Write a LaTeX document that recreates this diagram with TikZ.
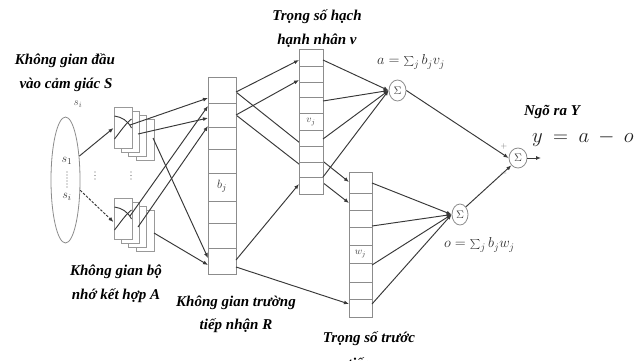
\documentclass[tikz,border=0pt]{standalone}
\usepackage{fontspec}
\setmainfont{Liberation Serif}
\usetikzlibrary{arrows.meta,shapes.geometric}
\begin{document}
\begin{tikzpicture}[x=1pt,y=-1pt,
  lbl/.style={font=\fontsize{15}{16}\selectfont\bfseries\itshape, inner sep=0pt, text=black},
  mth/.style={inner sep=0pt, text=black!82, font=\fontsize{14}{14}\selectfont},
  colbox/.style={draw=black!45, fill=white, line width=0.8pt, inner sep=0pt},
  cell/.style={draw=black!45, line width=0.7pt},
  abox/.style={draw=black!40, fill=white, line width=0.8pt, minimum width=18pt, minimum height=41pt, inner sep=0pt},
  curv/.style={draw=black!80, line width=0.9pt},
  conn/.style={draw=black!78, line width=0.95pt},
  arr/.style={conn, -{Latex[length=5pt,width=4pt]}},
  sig/.style={ellipse, draw=black!45, line width=0.8pt, fill=white, inner sep=0pt, font=\fontsize{11}{11}\selectfont, text=black!75},
  dotc/.style={fill=black!60, draw=none, circle, inner sep=0pt, minimum size=1.3pt}
]
\useasboundingbox (0,0) rectangle (644,360);
\fill[white] (0,0) rectangle (644,360);

% ---------- labels ----------
\node[lbl] (tv1) at (317,17) {Trọng số hạch};
\node[lbl] (tv2) at (317,41) {hạnh nhân v};
\node[lbl] (ts1) at (65,61) {Không gian đầu};
\node[lbl] (ts2) at (66,85) {vào cảm giác S};
\node[mth, font=\fontsize{11}{11}\selectfont, text=black!65] (sitop) at (78,104) {$s_i$};
\node[lbl] (ta1) at (116,272) {Không gian bộ};
\node[lbl] (ta2) at (116,296) {nhớ kết hợp A};
\node[lbl] (tr1) at (236,303) {Không gian trường};
\node[lbl] (tr2) at (236,326) {tiếp nhận R};
\node[lbl] (tw1) at (369,339) {Trọng số trước};
\node[lbl] (tw2) at (366,365) {tiếp w};
\node[lbl] (ty1) at (552,112) {Ngõ ra Y};
\node[mth, anchor=west] (aeq) at (377,62) {$a=\sum_j b_jv_j$};
\node[mth, anchor=west] (oeq) at (444,245) {$o=\sum_j b_jw_j$};
\node[mth, anchor=west, font=\fontsize{22}{22}\selectfont, text=black!88] (yeq) at (532,138) {$y\:=\:a\:-\:o$};

% ---------- input space S ----------
\node[ellipse, draw=black!45, line width=0.8pt, minimum width=29pt, minimum height=126pt, inner sep=0pt] (S) at (65.5,180) {};
\node[mth, font=\fontsize{13}{13}\selectfont, text=black!80] (s1) at (67,161) {$s_1$};
\node[mth, font=\fontsize{13}{13}\selectfont, text=black!80] (si) at (67,197) {$s_i$};
\foreach \y in {172,175,178,181,184,187} \node[dotc] at (67,\y) {};
\foreach \y in {172,175.5,179} {
  \node[dotc] at (95,\y) {};
  \node[dotc] at (131,\y) {};
}

% ---------- association space A ----------
\foreach \k in {3,2,1} {
  \node[abox] (At\k) at (123+7.3*\k,127.5+4.2*\k) {};
  \node[abox] (Ab\k) at (123+7.3*\k,218.5+4.2*\k) {};
}
\node[abox] (At) at (123,127.5) {};
\node[abox] (Ab) at (123,218.5) {};
\draw[curv] (114.5,116) .. controls (122,117) and (128,121) .. (131.5,128);
\draw[curv] (114.5,139) .. controls (120,132) and (126,123) .. (131.5,119);
\draw[curv] (114.5,207) .. controls (122,208) and (128,212) .. (131.5,219);
\draw[curv] (114.5,230) .. controls (120,223) and (126,214) .. (131.5,210);

\coordinate (sin1) at (S.60);
\coordinate (sin2) at (S.-35);
\coordinate (ain1) at (113.5,128);
\coordinate (ain2) at (113.5,222);
\draw[arr] (sin1) -- (ain1);
\draw[arr, dashed, dash pattern=on 2.5pt off 1.5pt] (sin2) -- (ain2);

% ---------- columns ----------
\coordinate (br1) at (236,92);
\coordinate (br2) at (236,115);
\coordinate (br3) at (236,260);
\coordinate (br4) at (236,267);
\coordinate (wl1) at (349,182);
\coordinate (wl2) at (349,203);
\coordinate (wl3) at (349,304);
% lines passing behind V
\draw[arr] (br1) -- (wl1);
\draw[arr] (br2) -- (wl2);

% B column
\node[colbox, minimum width=28pt, minimum height=197pt] (B) at (222,175.5) {};
\foreach \y in {103,127,149,173,201,223,248} \draw[cell] (208,\y) -- (236,\y);
\node[mth, font=\fontsize{13}{13}\selectfont, text=black!80] (bj) at (222,186) {$b_j$};

% V column
\node[colbox, minimum width=24pt, minimum height=145pt] (V) at (311,121.5) {};
\foreach \y in {66,82,97,113,130,146,162,177} \draw[cell] (299,\y) -- (323,\y);
\node[mth, font=\fontsize{10}{10}\selectfont, text=black!75] (vj) at (311,122) {$v_j$};

% W column
\node[colbox, minimum width=23pt, minimum height=145pt] (W) at (360.5,244.5) {};
\foreach \y in {193,210,227,245,263,282,299} \draw[cell] (349,\y) -- (372,\y);
\node[mth, font=\fontsize{10}{10}\selectfont, text=black!75] (wj) at (360.5,254) {$w_j$};

% ---------- A -> B ----------
\coordinate (at1) at (130,125);
\coordinate (at2) at (138,134);
\coordinate (at3) at (153,138);
\coordinate (ab1) at (130,216);
\coordinate (ab2) at (138,227);
\coordinate (ab3) at (154,233);
\coordinate (bl1) at (208,98);
\coordinate (bl2) at (208,106);
\coordinate (bl3) at (208,118);
\coordinate (bl4) at (208,126);
\coordinate (bl5) at (208,258);
\coordinate (bl6) at (208,265);
\draw[arr] (at1) -- (bl1);
\draw[arr] (at2) -- (bl3);
\draw[arr] (ab1) -- (bl2);
\draw[arr] (ab2) -- (bl4);
\draw[arr] (at3) -- (bl5);
\draw[arr] (ab3) -- (bl6);

% ---------- B -> V, W ----------
\coordinate (vl1) at (299,60);
\coordinate (vl2) at (299,80);
\coordinate (vl3) at (299,184);
\draw[arr] (br1) -- (vl1);
\draw[arr] (br2) -- (vl2);
\draw[arr] (br3) -- (vl3);
\draw[arr] (br4) -- (wl3);

% ---------- summations ----------
\node[sig, minimum width=17pt, minimum height=21pt] (asig) at (397.5,90.5) {$\Sigma$};
\node[sig, minimum width=16pt, minimum height=21pt] (osig) at (460,214.5) {$\Sigma$};
\node[sig, minimum width=18pt, minimum height=20pt] (ysig) at (518,158) {$\Sigma$};

\coordinate (vr1) at (323,60);
\coordinate (vr2) at (323,101);
\coordinate (vr3) at (323,139);
\coordinate (vr4) at (323,177);
\foreach \p in {vr1,vr2,vr3,vr4} \draw[arr] (\p) -- (asig.west);

\coordinate (wr1) at (372,183);
\coordinate (wr2) at (372,226);
\coordinate (wr3) at (372,265);
\coordinate (wr4) at (372,304);
\foreach \p in {wr1,wr2,wr3,wr4} \draw[arr] (\p) -- (osig.west);

\draw[arr] (asig.east) -- (ysig.west);
\draw[arr] (osig.north east) -- (ysig.south west);
\coordinate (yout) at (541,158);
\draw[arr] (ysig.east) -- (yout);
\node[inner sep=0pt, text=black!55, font=\fontsize{8}{8}\selectfont] (plus) at (504,146) {$+$};
\node[inner sep=0pt, text=black!55, font=\fontsize{8}{8}\selectfont] (minus) at (504,173) {$-$};
\end{tikzpicture}
\end{document}
